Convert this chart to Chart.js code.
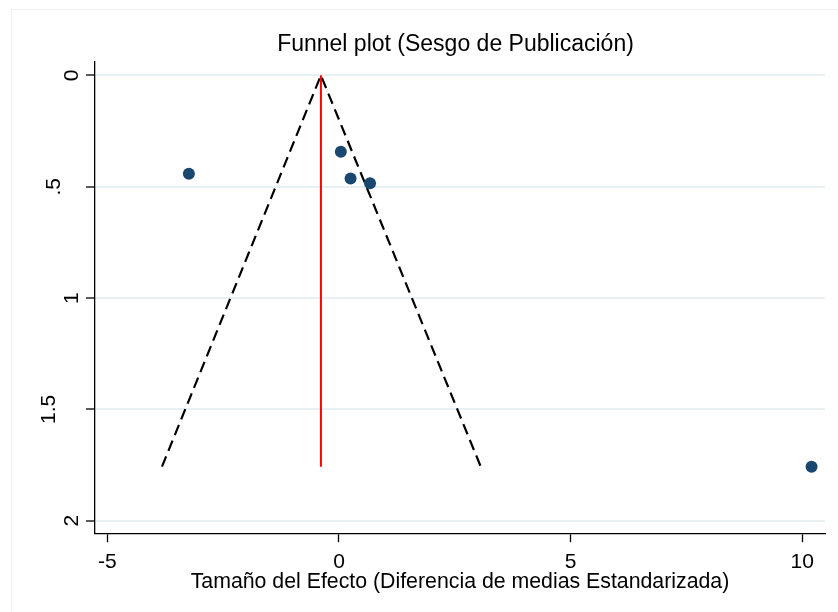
<!DOCTYPE html>
<html>
<head>
<meta charset="utf-8">
<script src="https://cdn.jsdelivr.net/npm/chart.js@4"></script>
<style>
  body { margin: 0; background: #fff; }
</style>
</head>
<body>
<canvas id="funnel" width="838" height="612"></canvas>
<script>
// estudios: efecto (DME) y error estandar
var efecto = [-3.24, 0.04, 0.25, 0.67, 10.2];
var errorEst = [0.442, 0.343, 0.463, 0.484, 1.757];

// linea del efecto combinado
var combinadoX = [-0.39, -0.39];
var combinadoY = [0, 1.757];

// limites del embudo (95%)
var embudoX = [-3.82, -0.39, 3.06];
var embudoY = [1.757, 0, 1.757];

var xTicks = [-5, 0, 5, 10];
var xTickLabels = ['-5', '0', '5', '10'];
var yTicks = [0, 0.5, 1, 1.5, 2];
var yTickLabels = ['0', '.5', '1', '1.5', '2'];

var fuente = "'Liberation Sans', Arial, sans-serif";

function pares(xs, ys) {
  return xs.map(function (x, i) { return { x: x, y: ys[i] }; });
}

// marco claro del grafico + etiquetas giradas del eje y
var extras = {
  id: 'extras',
  beforeDraw: function (chart) {
    var ctx = chart.ctx;
    ctx.save();
    ctx.strokeStyle = '#eef0f2';
    ctx.lineWidth = 1;
    ctx.strokeRect(11.5, 9.5, 840, 620);
    ctx.restore();
  },
  afterDraw: function (chart) {
    var ctx = chart.ctx;
    var ys = chart.scales.y;
    ctx.save();
    ctx.fillStyle = '#000';
    ctx.font = '21px ' + fuente;
    ctx.textAlign = 'center';
    ctx.textBaseline = 'alphabetic';
    yTicks.forEach(function (v, i) {
      var txt = yTickLabels[i];
      var bx = txt.length === 1 ? 78 : (txt.length === 2 ? 60 : 55);
      ctx.save();
      ctx.translate(bx, ys.getPixelForValue(v));
      ctx.rotate(-Math.PI / 2);
      ctx.fillText(txt, 0, 0);
      ctx.restore();
    });
    ctx.restore();
  }
};

var grafico = document.getElementById('funnel');
new Chart(grafico, {
  type: 'scatter',
  data: {
    datasets: [{
      label: 'Estudios',
      data: pares(efecto, errorEst),
      backgroundColor: '#1a476f',
      borderWidth: 0,
      pointRadius: 6,
      showLine: false
    }, {
      label: 'Efecto combinado',
      data: pares(combinadoX, combinadoY),
      showLine: true,
      borderColor: '#ff0000',
      borderWidth: 2,
      pointRadius: 0
    }, {
      label: 'IC 95%',
      data: pares(embudoX, embudoY),
      showLine: true,
      borderColor: '#000',
      borderWidth: 2.2,
      borderDash: [11, 6],
      pointRadius: 0
    }]
  },
  options: {
    responsive: false,
    animation: false,
    layout: { padding: { left: 86, right: 13, top: 10, bottom: 17 } },
    plugins: {
      legend: { display: false },
      tooltip: { enabled: false },
      title: {
        display: true,
        text: 'Funnel plot (Sesgo de Publicación)',
        color: '#000',
        font: { family: fuente, size: 23, weight: 'normal' },
        padding: { top: 21, bottom: 3.4 }
      }
    },
    scales: {
      x: {
        type: 'linear',
        min: -5.266,
        max: 10.49,
        afterBuildTicks: function (s) { s.ticks = xTicks.map(function (v) { return { value: v }; }); },
        ticks: {
          color: '#000',
          font: { family: fuente, size: 21 },
          padding: 7,
          maxRotation: 0,
          callback: function (v) { return xTickLabels[xTicks.indexOf(v)]; }
        },
        grid: { drawOnChartArea: false, drawTicks: true, tickLength: 9, tickColor: '#000', tickWidth: 1.3 },
        border: { display: true, color: '#000', width: 1.3 },
        title: {
          display: true,
          text: 'Tamaño del Efecto (Diferencia de medias Estandarizada)',
          color: '#000',
          font: { family: fuente, size: 21.3 },
          padding: { top: -12, bottom: 0 }
        }
      },
      y: {
        type: 'linear',
        reverse: true,
        min: -0.06,
        max: 2.056,
        afterBuildTicks: function (s) { s.ticks = yTicks.map(function (v) { return { value: v }; }); },
        ticks: { display: false },
        grid: { color: '#e8f0f3', lineWidth: 2, tickLength: 9, tickColor: '#000', tickWidth: 1.3 },
        border: { display: true, color: '#000', width: 1.3 }
      }
    }
  },
  plugins: [extras]
});
</script>
</body>
</html>
